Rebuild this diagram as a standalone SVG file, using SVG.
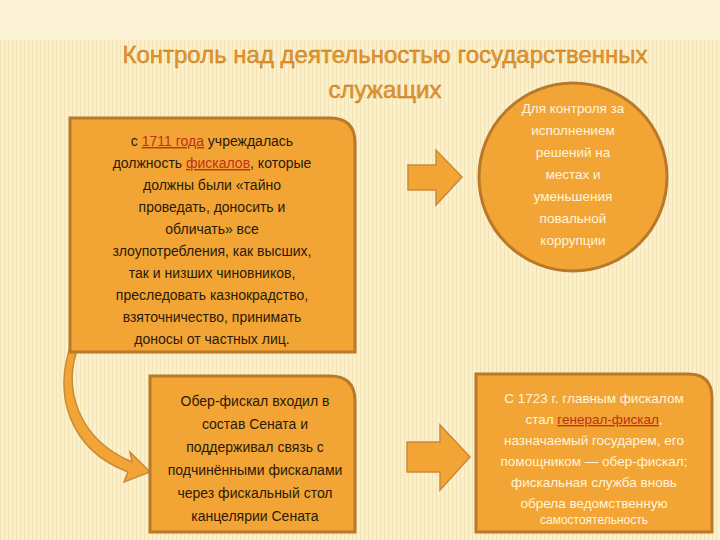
<svg xmlns="http://www.w3.org/2000/svg" width="720" height="540" viewBox="0 0 720 540">
<defs>
<style>
.box{fill:#f2a534;stroke:#b87a2a;stroke-width:3}
.arr{fill:#f2a534;stroke:#c98a3a;stroke-width:1.5}
.dk{font-family:"Liberation Sans",Arial,sans-serif;font-size:14px;fill:#2a1a08;text-anchor:middle}
.wt{font-family:"Liberation Sans",Arial,sans-serif;font-size:13.5px;fill:#fff4dc;text-anchor:middle}
.ttl{font-family:"Liberation Sans",Arial,sans-serif;font-size:24px;fill:#e8962a;stroke:#b8701a;stroke-width:0.4;text-anchor:middle}
.lk{fill:#c0301a;text-decoration:underline}
</style>
<pattern id="st" width="4" height="4" patternUnits="userSpaceOnUse"><rect width="4" height="4" fill="#fbf0cc"/><rect width="1" height="4" fill="#f3e2b4"/></pattern>
</defs>
<rect width="720" height="540" fill="#fcf3d6"/>
<rect y="40" width="720" height="500" fill="url(#st)"/>
<text class="ttl" x="385" y="63">Контроль над деятельностью государственных</text>
<text class="ttl" x="385" y="98">служащих</text>
<g id="connectors">
<path class="arr" d="M408,165 H436 V150 L462,177 L436,205 V190 H408 Z"/>
<path class="arr" d="M407,442 H440 V425 L470,457 L440,490 V472 H407 Z"/>
<path class="arr" d="M80,342 C60,390 80,440 132,462 L130,452 L150,472 L124,482 L128,472 C70,450 52,395 72,342 Z"/>
</g>
<g id="n1">
<path class="box" d="M70,118 H330 Q355,118 355,143 V352 H70 Z"/>
<text class="dk" x="212" y="146">с <tspan class="lk">1711 года</tspan> учреждалась</text>
<text class="dk" x="212" y="168">должность <tspan class="lk">фискалов</tspan>, которые</text>
<text class="dk" x="212" y="190">должны были «тайно</text>
<text class="dk" x="212" y="212">проведать, доносить и</text>
<text class="dk" x="212" y="234">обличать» все</text>
<text class="dk" x="212" y="256">злоупотребления, как высших,</text>
<text class="dk" x="212" y="278">так и низших чиновников,</text>
<text class="dk" x="212" y="300">преследовать казнокрадство,</text>
<text class="dk" x="212" y="322">взяточничество, принимать</text>
<text class="dk" x="212" y="344">доносы от частных лиц.</text>
</g>
<g id="n2">
<circle class="box" cx="573" cy="177" r="94"/>
<text class="wt" x="573" y="113">Для контроля за</text>
<text class="wt" x="573" y="135">исполнением</text>
<text class="wt" x="573" y="157">решений на</text>
<text class="wt" x="573" y="179">местах и</text>
<text class="wt" x="573" y="201">уменьшения</text>
<text class="wt" x="573" y="223">повальной</text>
<text class="wt" x="573" y="245">коррупции</text>
</g>
<g id="n3">
<path class="box" d="M150,376 H330 Q355,376 355,401 V532 H150 Z"/>
<text class="dk" x="255" y="406">Обер-фискал входил в</text>
<text class="dk" x="255" y="429">состав Сената и</text>
<text class="dk" x="255" y="452">поддерживал связь с</text>
<text class="dk" x="255" y="475">подчинёнными фискалами</text>
<text class="dk" x="255" y="498">через фискальный стол</text>
<text class="dk" x="255" y="521">канцелярии Сената</text>
</g>
<g id="n4">
<path class="box" d="M476,374 H688 Q712,374 712,398 V532 H476 Z"/>
<text class="wt" x="594" y="403">С 1723 г. главным фискалом</text>
<text class="wt" x="594" y="424">стал <tspan class="lk">генерал-фискал</tspan>,</text>
<text class="wt" x="594" y="445">назначаемый государем, его</text>
<text class="wt" x="594" y="466">помощником — обер-фискал;</text>
<text class="wt" x="594" y="487">фискальная служба вновь</text>
<text class="wt" x="594" y="508">обрела ведомственную</text>
<text class="wt" x="594" y="524" style="font-size:12px">самостоятельность</text>
</g>
</svg>
